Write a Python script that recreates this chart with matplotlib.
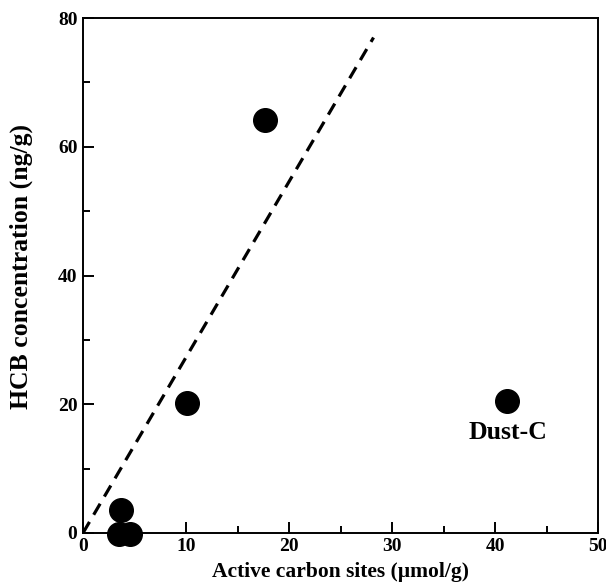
import numpy as np
import matplotlib
matplotlib.use('Agg')
import matplotlib.pyplot as plt
from matplotlib.ticker import MultipleLocator

plt.rcParams['font.family'] = ['Liberation Serif', 'DejaVu Serif']
plt.rcParams['font.weight'] = 'bold'

# data
sites = [3.5, 4.6, 3.7, 10.1, 17.7, 41.2]
hcb = [-0.2, -0.2, 3.6, 20.2, 64.1, 20.5]
fit_x = [0.0, 28.2]
fit_slope = 2.73

fig = plt.figure(figsize=(6.06, 5.85), dpi=100)
ax = fig.add_axes([0.137, 0.089, 0.850, 0.880])

ax.plot(sites, hcb, 'o', color='black', markersize=17, clip_on=False, zorder=3)
fx = np.array(fit_x)
ax.plot(fx, fit_slope * fx, '--', color='black', lw=2.3, dashes=(4, 2.6))

ax.text(41.2, 15.6, 'Dust-C', ha='center', va='center', fontsize=18.5, fontweight='bold')

ax.set_xlim(0, 50)
ax.set_ylim(0, 80)
ax.xaxis.set_major_locator(MultipleLocator(10))
ax.xaxis.set_minor_locator(MultipleLocator(5))
ax.yaxis.set_major_locator(MultipleLocator(20))
ax.yaxis.set_minor_locator(MultipleLocator(10))
ax.tick_params(which='both', direction='in', top=False, right=False, width=1.4)
ax.tick_params(which='major', length=8, labelsize=14, pad=4)
ax.tick_params(which='minor', length=5)
for sp in ax.spines.values():
    sp.set_linewidth(1.4)

ax.set_xlabel('Active carbon sites (\u00b5mol/g)', fontsize=15.5, fontweight='bold', labelpad=5)
ax.set_ylabel('HCB concentration (ng/g)', fontsize=18.5, fontweight='bold')
ax.yaxis.set_label_coords(-0.097, 0.518)

fig.savefig('out.png', dpi=100)
